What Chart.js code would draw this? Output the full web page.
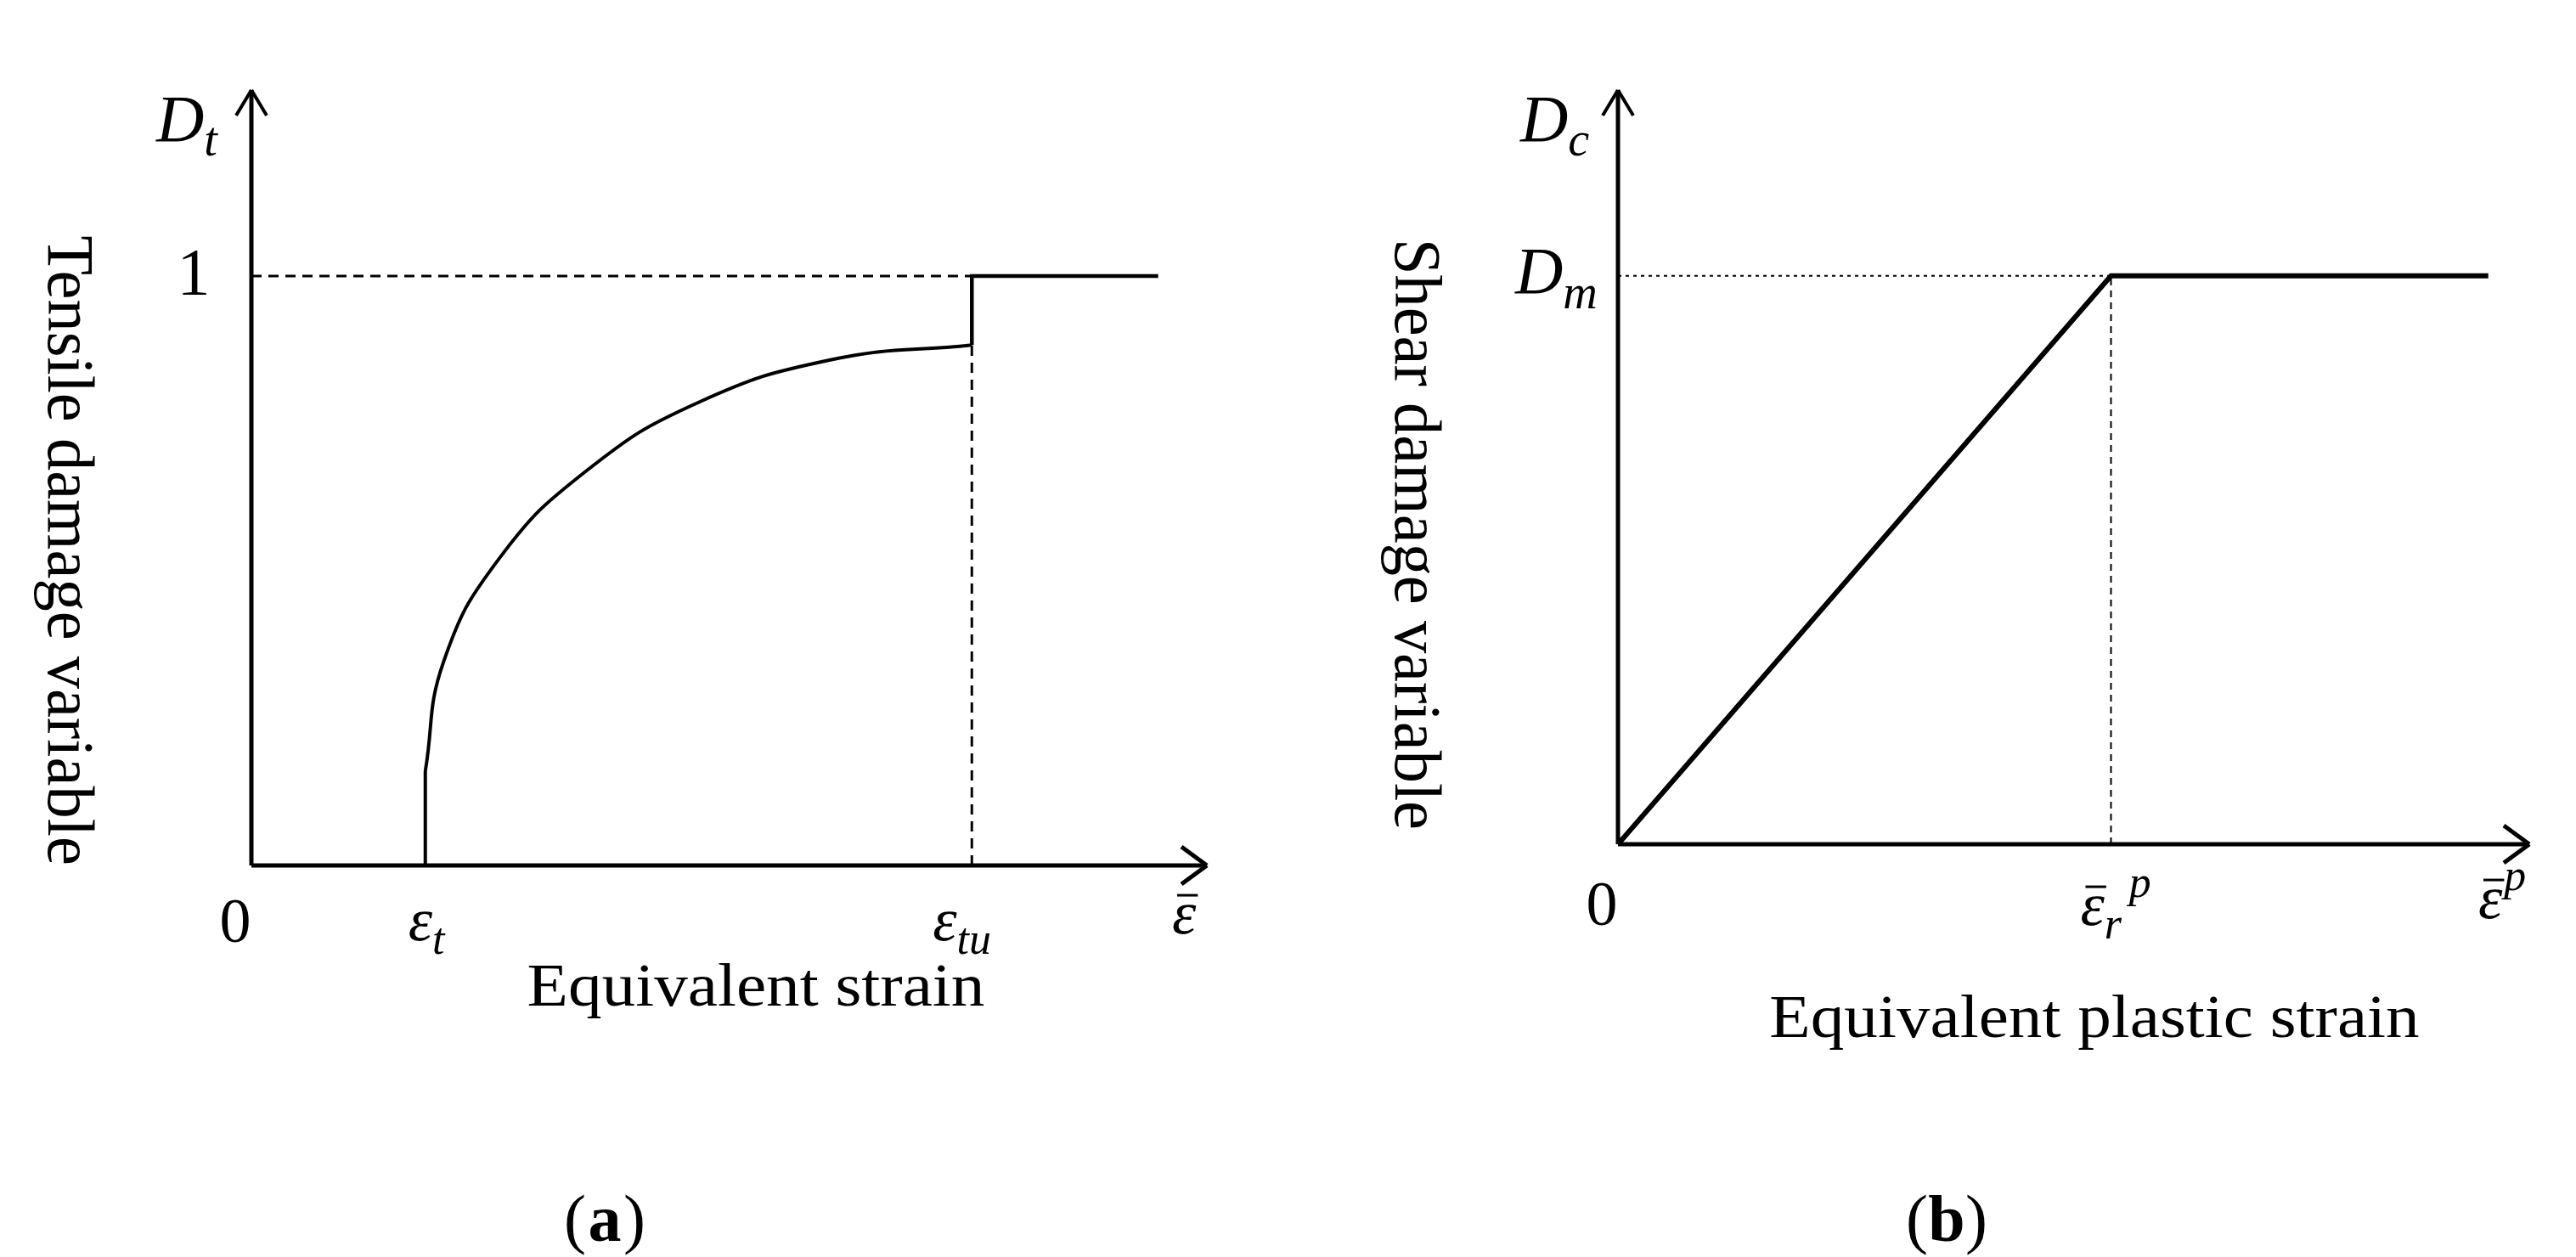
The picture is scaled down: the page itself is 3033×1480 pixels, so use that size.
<!DOCTYPE html>
<html><head><meta charset="utf-8">
<script src="https://cdn.jsdelivr.net/npm/chart.js@4"></script>
<style>
body{margin:0;background:#fff;width:3033px;height:1480px;position:relative;overflow:hidden}
.box{position:absolute;top:0;height:1480px}
</style></head><body>
<div class="box" style="left:0;width:1500px"><canvas id="a"></canvas></div>
<div class="box" style="left:1500px;width:1533px"><canvas id="b"></canvas></div>
<script>
// panel (a): tensile damage curve, x in arbitrary strain units (0..10), y in D_t
const tensileX = [1.82, 1.82, 2.01, 2.59, 3.51, 4.67, 6.07, 7.54];
const tensileY = [0, 0.16, 0.345, 0.52, 0.67, 0.785, 0.858, 0.883];
const tensileTopX = [7.54, 7.54, 9.49];
const tensileTopY = [0.883, 1, 1];
const epsT = 1.82, epsTu = 7.54;

// panel (b): shear damage, linear up to the knee then flat at D_m
const shearX = [0, 5.41, 9.55];
const shearY = [0, 1, 1];
const epsR = 5.41;

const serif = '"Liberation Serif", "DejaVu Serif", serif';
const pts = (xs, ys) => xs.map((x, i) => ({ x, y: ys[i] }));

function line(ctx, x1, y1, x2, y2, w, dash) {
    ctx.save();
    ctx.strokeStyle = '#000';
    ctx.lineWidth = w;
    ctx.setLineDash(dash || []);
    ctx.beginPath(); ctx.moveTo(x1, y1); ctx.lineTo(x2, y2); ctx.stroke();
    ctx.restore();
}

function arrowAxes(ctx, area, w) {
    const { left, right, top, bottom } = area;
    line(ctx, left, bottom, right, bottom, w);
    line(ctx, left, bottom, left, top, w);
    line(ctx, right - 30, bottom - 22, right, bottom, w);
    line(ctx, right - 30, bottom + 22, right, bottom, w);
    line(ctx, left - 18, top + 30, left, top, w - 1);
    line(ctx, left + 18, top + 30, left, top, w - 1);
}

function text(ctx, str, x, y, size, opts = {}) {
    ctx.save();
    ctx.fillStyle = '#000';
    ctx.font = (opts.italic ? 'italic ' : '') + (opts.bold ? 'bold ' : '') + size + 'px ' + serif;
    ctx.textAlign = opts.align || 'center';
    ctx.textBaseline = 'middle';
    ctx.translate(x, y);
    if (opts.rot) ctx.rotate(opts.rot);
    if (opts.sx) ctx.scale(opts.sx, 1);
    ctx.fillText(str, 0, 0);
    ctx.restore();
}

function mathLabel(ctx, base, sub, sup, x, y, size, bar) {
    ctx.save();
    ctx.font = 'italic ' + size + 'px ' + serif;
    const w = ctx.measureText(base).width;
    ctx.restore();
    text(ctx, base, x, y, size, { italic: true, align: 'left' });
    if (bar) line(ctx, x + 6, y - size * 0.36, x + w + 2, y - size * 0.36, 3);
    if (sub) text(ctx, sub, x + w, y + size * 0.3, size * 0.72, { italic: true, align: 'left' });
    if (sup) text(ctx, sup, x + w + (sub ? size * 0.4 : 2), y - size * 0.38, size * 0.72, { italic: true, align: 'left' });
}

const panelA = {
    id: 'panelA',
    afterDraw(chart) {
        const { ctx, chartArea, scales } = chart;
        const X = v => scales.x.getPixelForValue(v), Y = v => scales.y.getPixelForValue(v);
        arrowAxes(ctx, chartArea, 5);
        mathLabel(ctx, 'D', 't', null, 184, 145, 78);
        text(ctx, '1', 228, Y(1), 78);
        text(ctx, '0', 277, 1090, 74);
        mathLabel(ctx, 'ε', 't', null, X(epsT) - 20, 1088, 72);
        mathLabel(ctx, 'ε', 'tu', null, X(epsTu) - 46, 1088, 72);
        mathLabel(ctx, 'ε', null, null, 1380, 1080, 72, true);
        text(ctx, 'Equivalent strain', 890, 1165, 72, { sx: 1.1 });
        text(ctx, 'Tensile damage variable', 77, 648, 78, { rot: Math.PI / 2, sx: 0.98 });
        text(ctx, '(', 677, 1441, 78);
        text(ctx, 'a', 712, 1441, 78, { bold: true });
        text(ctx, ')', 747, 1441, 78);
    }
};

const panelB = {
    id: 'panelB',
    afterDraw(chart) {
        const { ctx, chartArea, scales } = chart;
        const X = v => scales.x.getPixelForValue(v), Y = v => scales.y.getPixelForValue(v);
        arrowAxes(ctx, chartArea, 5);
        mathLabel(ctx, 'D', 'c', null, 290, 145, 78);
        mathLabel(ctx, 'D', 'm', null, 284, Y(1), 78);
        text(ctx, '0', 386, 1070, 74);
        mathLabel(ctx, 'ε', 'r', 'p', X(epsR) - 36, 1070, 72, true);
        mathLabel(ctx, 'ε', null, 'p', 1418, 1062, 72, true);
        text(ctx, 'Equivalent plastic strain', 966, 1202, 72, { sx: 1.1 });
        text(ctx, 'Shear damage variable', 163, 629, 78, { rot: Math.PI / 2, sx: 0.98 });
        text(ctx, '(', 757, 1441, 78);
        text(ctx, 'b', 792, 1441, 78, { bold: true });
        text(ctx, ')', 827, 1441, 78);
    }
};

const hidden = { display: false };
function makeChart(id, datasets, yMax, padding, plugin) {
    return new Chart(document.getElementById(id), {
        type: 'scatter',
        data: { datasets },
        options: {
            responsive: true, maintainAspectRatio: false, animation: false,
            layout: { padding },
            plugins: { legend: hidden, tooltip: { enabled: false } },
            elements: { point: { radius: 0 } },
            scales: {
                x: { type: 'linear', min: 0, max: 10, display: false },
                y: { type: 'linear', min: 0, max: yMax, display: false }
            }
        },
        plugins: [plugin]
    });
}
const ds = (data, w, dash, smooth) => ({
    data, showLine: true, borderColor: '#000', borderWidth: w, borderDash: dash || [],
    tension: smooth ? 0.45 : 0, fill: false
});

makeChart('a', [
    ds(pts(tensileX.slice(1), tensileY.slice(1)), 4, null, true),
    ds(pts(tensileX.slice(0, 2), tensileY.slice(0, 2)), 4),
    ds(pts(tensileTopX, tensileTopY), 4.5),
    ds(pts([0, epsTu], [1, 1]), 3, [12, 8]),
    ds(pts([epsTu, epsTu], [0, 0.883]), 3, [12, 8])
], 1.3156, { left: 296, right: 79, top: 106, bottom: 461 }, panelA);

makeChart('b', [
    ds(pts(shearX, shearY), 6),
    ds(pts([0, epsR], [1, 1]), 2, [4, 5]),
    ds(pts([epsR, epsR], [0, 1]), 2, [8, 6])
], 1.327, { left: 405, right: 55, top: 106, bottom: 486 }, panelB);
</script>
</body></html>
